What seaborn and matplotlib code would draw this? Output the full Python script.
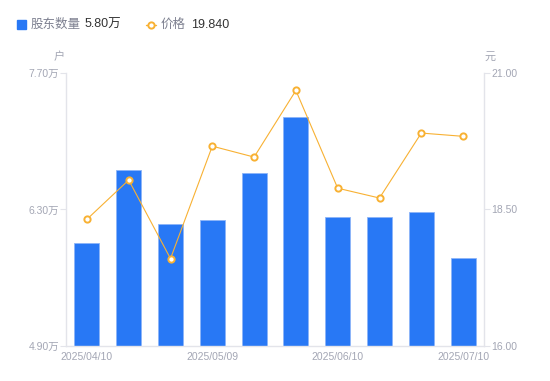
import matplotlib
matplotlib.use("Agg")
import matplotlib.pyplot as plt
import numpy as np
import pandas as pd
import seaborn as sns
from matplotlib.lines import Line2D

dates = ["2025/04/10", "2025/04/18", "2025/04/30", "2025/05/09", "2025/05/20",
         "2025/05/30", "2025/06/10", "2025/06/20", "2025/06/30", "2025/07/10"]
holders = [5.96, 6.70, 6.15, 6.19, 6.67, 7.25, 6.22, 6.22, 6.27, 5.80]  # 万户
price = [18.32, 19.04, 17.60, 19.66, 19.46, 20.68, 18.89, 18.71, 19.90, 19.84]
shown_dates = ["2025/04/10", "2025/05/09", "2025/06/10", "2025/07/10"]
left_ticks = [4.90, 6.30, 7.70]
right_ticks = [16.00, 18.50, 21.00]

BLUE = "#2878f5"
ORANGE = "#f8b133"
GRID = "#e3e4ea"
LABEL = "#a3a6b4"

sns.set_style("white")
plt.rcParams["font.family"] = ["Liberation Sans", "Noto Sans CJK SC", "DejaVu Sans"]

df = pd.DataFrame({"date": dates, "holders": holders, "price": price})
df["idx"] = np.arange(len(df))

fig = plt.figure(figsize=(5.5, 3.81), dpi=100)
ax = fig.add_axes([0.12, 0.0919, 0.76, 0.7165])
sns.barplot(data=df, x="idx", y="holders", color=BLUE, width=0.6, ax=ax,
            edgecolor="#8cb4f8", linewidth=0.6, saturation=1)
ax.set_xlim(-0.5, len(df) - 0.5)
ax.set_ylim(left_ticks[0], left_ticks[-1])
ax.set_yticks(left_ticks)
ax.set_yticklabels([f"{v:.2f}万" for v in left_ticks])
ax.set_xticks([dates.index(d) for d in shown_dates])
ax.set_xticklabels(shown_dates)
ax.set_xlabel("")
ax.set_ylabel("")

ax2 = ax.twinx()
sns.lineplot(data=df, x="idx", y="price", color=ORANGE, linewidth=0.8, ax=ax2,
             marker="o", markersize=4.5, markerfacecolor="white",
             markeredgecolor=ORANGE, markeredgewidth=1.4)
ax2.set_ylim(right_ticks[0], right_ticks[-1])
ax2.set_yticks(right_ticks)
ax2.set_yticklabels([f"{v:.2f}" for v in right_ticks])
ax2.set_xlabel("")
ax2.set_ylabel("")

for a in (ax, ax2):
    for s in a.spines.values():
        s.set_visible(False)
ax.spines["left"].set_visible(True)
ax.spines["bottom"].set_visible(True)
ax2.spines["right"].set_visible(True)
for s in (ax.spines["left"], ax.spines["bottom"], ax2.spines["right"]):
    s.set_color(GRID)
    s.set_linewidth(1)

ax.tick_params(axis="y", length=4, width=0.8, color=GRID, labelsize=7.5, labelcolor=LABEL, pad=1)
ax.tick_params(axis="x", length=0, labelsize=7.5, labelcolor=LABEL, pad=4)
ax2.tick_params(axis="y", length=4, width=0.8, color=GRID, labelsize=7.5, labelcolor=LABEL, pad=1)

fig.text(59 / 550, 1 - 57 / 381, "户", fontsize=8, color=LABEL, ha="center", va="center")
fig.text(490 / 550, 1 - 57 / 381, "元", fontsize=8, color=LABEL, ha="center", va="center")

# legend row
sq = plt.Rectangle((17 / 550, 1 - 29 / 381), 9 / 550, 9 / 381, color=BLUE,
                   transform=fig.transFigure, figure=fig)
fig.patches.append(sq)
fig.text(31 / 550, 1 - 24.5 / 381, "股东数量", fontsize=9, color="#7d8090", va="center")
fig.text(85 / 550, 1 - 24.5 / 381, f"{holders[-1]:.2f}万", fontsize=9, color="#333333", va="center")
fig.add_artist(Line2D([146 / 550, 156 / 550], [1 - 24.5 / 381] * 2, color=ORANGE, lw=1,
                      transform=fig.transFigure))
fig.add_artist(Line2D([151 / 550], [1 - 24.5 / 381], color=ORANGE, marker="o", markersize=4.5,
                      markerfacecolor="white", markeredgewidth=1.4, transform=fig.transFigure))
fig.text(161 / 550, 1 - 24.5 / 381, "价格", fontsize=9, color="#7d8090", va="center")
fig.text(191 / 550, 1 - 24.5 / 381, f"{price[-1]:.3f}", fontsize=9, color="#333333", va="center")

fig.savefig("out.png", dpi=100)
